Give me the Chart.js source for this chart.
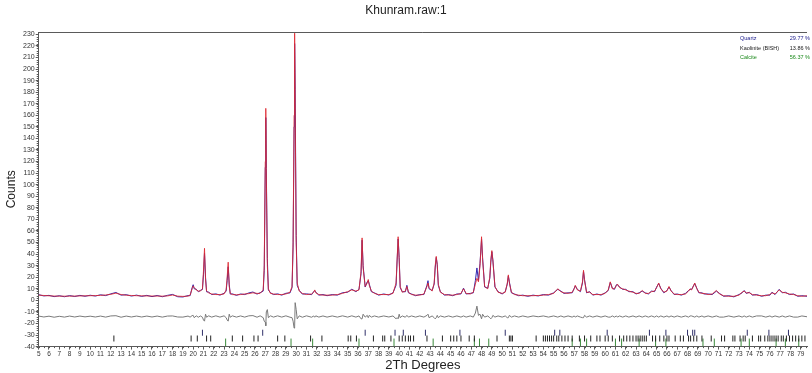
<!DOCTYPE html>
<html>
<head>
<meta charset="utf-8">
<script src="https://cdn.jsdelivr.net/npm/chart.js@4"></script>
<style>
  body { margin: 0; background: #fff; }
  #wrap { position: relative; width: 812px; height: 373px; }
  #phases { position: absolute; left: 740px; top: 34px; font: 5.5px "Liberation Sans", Arial, sans-serif; line-height: 9.5px; }
  #phases div { display: flex; width: 70px; justify-content: space-between; }
</style>
</head>
<body>
<div id="wrap">
  <canvas id="graphique" width="812" height="373"></canvas>
  <div id="phases">
    <div style="color:#1c1c8c"><span>Quartz</span><span>29.77 %</span></div>
    <div style="color:#202020"><span>Kaolinite (BISH)</span><span>13.86 %</span></div>
    <div style="color:#1d8a1d"><span>Calcite</span><span>56.37 %</span></div>
  </div>
</div>
<script>
// 2-theta grid (degrees)
const twoTheta = [
  5, 5.5, 6, 6.5, 7, 7.5, 8, 8.5, 9, 9.5,
  10, 10.5, 11, 11.5, 12, 12.5, 13, 13.5, 14, 14.5,
  15, 15.5, 16, 16.5, 17, 17.5, 18, 18.5, 19, 19.5,
  19.7, 19.9, 20.0, 20.1, 20.3, 20.5, 20.7, 20.9, 21.0, 21.1,
  21.2, 21.3, 21.5, 21.8, 22.2, 22.6, 23.0, 23.2, 23.3, 23.4,
  23.5, 23.6, 23.8, 24.2, 24.6, 25.0, 25.4, 25.8, 26.2, 26.5,
  26.8, 26.9, 27.0, 27.05, 27.1, 27.2, 27.3, 27.5, 27.8, 28.2,
  28.6, 29.0, 29.4, 29.6, 29.7, 29.8, 29.85, 29.9, 30.0, 30.1,
  30.3, 30.6, 31.0, 31.5, 31.7, 31.8, 31.9, 32.2, 32.6, 33.0,
  33.5, 34.0, 34.5, 35.0, 35.4, 35.8, 36.1, 36.3, 36.4, 36.5,
  36.7, 36.9, 37.0, 37.1, 37.3, 37.6, 38.0, 38.5, 39.0, 39.4,
  39.7, 39.8, 39.9, 40.0, 40.1, 40.3, 40.6, 40.75, 40.9, 41.2,
  41.6, 42.0, 42.4, 42.7, 42.8, 42.9, 43.2, 43.4, 43.5, 43.6,
  43.7, 43.8, 44.0, 44.4, 44.8, 45.2, 45.6, 46.0, 46.25, 46.5,
  46.9, 47.2, 47.4, 47.55, 47.7, 47.85, 48.0, 48.1, 48.3, 48.6,
  48.8, 48.9, 49.0, 49.1, 49.3, 49.6, 50.0, 50.3, 50.5, 50.6,
  50.7, 50.9, 51.2, 51.6, 52.0, 52.5, 53.0, 53.5, 54.0, 54.5,
  55.0, 55.4, 55.7, 56.0, 56.4, 56.8, 57.0, 57.1, 57.3, 57.6,
  57.8, 57.9, 58.0, 58.2, 58.5, 58.8, 59.2, 59.6, 60.0, 60.3,
  60.5, 60.7, 60.9, 61.1, 61.2, 61.4, 61.7, 62.0, 62.3, 62.7,
  63.0, 63.3, 63.6, 63.9, 64.2, 64.5, 64.8, 65.0, 65.2, 65.4,
  65.7, 66.0, 66.2, 66.4, 66.7, 67.0, 67.4, 67.8, 68.1, 68.25,
  68.4, 68.7, 68.9, 69.1, 69.4, 69.6, 70.0, 70.4, 70.8, 71.1,
  71.5, 72.0, 72.5, 73.0, 73.3, 73.5, 73.7, 74.0, 74.3, 74.7,
  75.2, 75.6, 76.0, 76.2, 76.5, 76.9, 77.2, 77.5, 77.9, 78.3,
  78.7, 79.1, 79.6
];

// calculated profile (red)
const yCalc = [
  4.5, 4.2, 3.9, 3.7, 3.6, 3.6, 3.6, 3.7, 3.8, 3.9,
  4.0, 4.1, 4.3, 4.6, 5.2, 6.2, 5.0, 4.4, 4.2, 4.0,
  3.9, 3.8, 3.7, 3.7, 3.6, 3.8, 4.6, 3.6, 3.4, 3.6,
  4.5, 10, 12.5, 11, 9, 8, 8, 10, 25, 45,
  18, 8, 6.5, 5.5, 5, 5, 5.5, 9, 20, 33,
  12, 6, 5, 4.8, 5, 5.5, 5.8, 6.5, 6, 6,
  9, 30, 120, 166, 110, 30, 10, 6, 5.5, 5,
  5, 5.5, 7, 12, 50, 160, 231, 170, 50, 15,
  8, 6, 5, 5.5, 7, 9, 6.5, 5, 4.5, 4.5,
  4.5, 5, 6, 7.5, 9, 8, 9, 25, 54, 28,
  12, 15, 18, 13, 8, 6, 5, 5, 5, 6,
  15, 35, 55, 35, 12, 7, 8, 12, 7, 5,
  4.5, 4.5, 5.5, 12, 15, 11, 8, 15, 30, 38,
  30, 14, 7, 5, 4.5, 4.5, 5, 6, 10, 6,
  5.5, 7, 14, 19, 16, 30, 55, 35, 12, 10,
  20, 35, 43, 34, 12, 7, 6, 7, 15, 22,
  15, 7, 5, 4.5, 4, 4, 4, 4.2, 4.5, 5,
  6, 10, 7.5, 6.5, 6, 7, 10, 13, 9, 8,
  16, 26, 17, 7, 7, 5, 5, 5, 6, 9,
  16, 10, 10, 13, 14, 11, 10, 9, 8, 7,
  6, 6, 8.5, 6, 6, 7.5, 8, 11, 15, 10,
  7, 8, 12, 8, 5.5, 5, 5, 5.5, 8, 10,
  9, 15, 10, 7, 6, 6, 5, 5.5, 8.5, 5.5,
  4, 3.5, 3.5, 4.5, 7, 8, 6.5, 6.5, 5, 4.5,
  4, 4, 5, 6.5, 5.5, 9, 7, 6.5, 5.5, 5,
  4, 3.5, 4
];

// observed counts (blue)
const yObs = [
  4.9, 3.8, 4.3, 3.2, 4.0, 3.1, 4.1, 3.3, 4.3, 3.5,
  4.4, 3.7, 4.8, 4.1, 5.6, 6.8, 4.5, 4.9, 3.7, 4.5,
  3.4, 4.3, 3.2, 4.2, 3.1, 4.3, 5.1, 3.1, 2.9, 4.1,
  4.0, 11, 13.5, 10, 9.6, 7.4, 8.6, 9.4, 22, 41,
  20, 7.4, 7.1, 5.0, 5.6, 4.5, 6.1, 8, 17, 29,
  14, 5.4, 5.6, 4.3, 5.5, 5.0, 6.4, 7.2, 5.4, 6.6,
  8, 26, 115, 158, 114, 36, 9, 6.6, 5.0, 5.6,
  4.5, 6.1, 6.4, 11, 46, 150, 222, 182, 56, 13,
  8.6, 5.4, 5.6, 4.9, 7.5, 8.4, 7.1, 4.5, 5.0, 4.0,
  5.0, 4.5, 6.6, 7.0, 9.6, 7.5, 9.5, 23, 52, 30,
  11.5, 16, 17, 14, 7.5, 6.5, 4.5, 5.5, 4.6, 6.5,
  13, 34, 53, 37, 11, 7.5, 7.4, 13, 6.5, 5.5,
  4.0, 5.0, 5.0, 13, 17, 10, 8.5, 14, 28, 37,
  31, 13, 7.5, 4.5, 5.0, 4.0, 5.5, 5.5, 10.5, 5.5,
  6.0, 6.5, 17, 28, 17, 32, 53, 37, 11.5, 10.5,
  19, 33, 42, 35, 11.5, 7.5, 5.5, 7.5, 14, 21,
  16, 6.5, 5.5, 4.0, 4.5, 3.5, 4.5, 3.8, 5.0, 4.5,
  6.5, 9.5, 8.0, 6.0, 6.5, 6.5, 10.5, 12.5, 9.5, 7.5,
  15, 25, 18, 6.5, 7.5, 4.5, 5.5, 4.5, 6.5, 8.5,
  15.5, 10.5, 9.5, 13.5, 13.5, 11.5, 9.5, 9.5, 7.5, 7.5,
  5.5, 6.5, 8.0, 6.5, 5.5, 8.0, 7.5, 11.5, 14.5, 10.5,
  6.5, 8.5, 11.5, 8.5, 5.0, 5.5, 4.5, 6.0, 8.5, 9.5,
  9.5, 14.5, 10.5, 6.5, 6.5, 5.5, 5.5, 5.0, 8.0, 6.0,
  3.5, 4.0, 3.0, 5.0, 6.5, 8.5, 6.0, 7.0, 4.5, 5.0,
  3.5, 4.5, 4.5, 7.0, 5.0, 9.5, 6.5, 7.0, 5.0, 5.5,
  3.5, 4.0, 3.5
];

// difference curve (grey), plotted with its offset
const yDiff = [
  -13.6, -14.4, -13.7, -14.6, -13.8, -14.5, -13.6, -14.4, -13.6, -14.3,
  -13.7, -14.4, -13.6, -14.5, -13.5, -13.3, -14.6, -13.6, -14.4, -13.6,
  -14.4, -13.6, -14.4, -13.6, -14.5, -13.6, -13.5, -14.4, -14.5, -13.6,
  -14.5, -13.2, -13.0, -15.0, -13.4, -14.6, -13.5, -14.6, -17, -18,
  -12, -14.6, -13.4, -14.5, -13.4, -14.5, -13.4, -15, -17, -18,
  -12, -14.6, -13.4, -14.5, -13.5, -14.5, -13.4, -13.2, -14.6, -13.4,
  -15, -18, -19, -22, -10, -8, -15, -13.4, -14.5, -13.4,
  -14.5, -13.4, -14.6, -15, -18, -24, -23, -2, -8, -16,
  -13.4, -14.6, -13.4, -14.6, -13.5, -14.6, -13.4, -14.5, -13.5, -14.5,
  -13.5, -14.5, -13.4, -14.5, -13.4, -14.5, -13.5, -16, -16, -12,
  -14.5, -13, -15, -13, -14.5, -13.5, -14.5, -13.5, -14.4, -13.5,
  -16, -15, -16, -12, -15, -13.5, -14.6, -13, -14.5, -13.5,
  -14.5, -13.5, -14.5, -13, -12, -15, -13.5, -15, -16, -15,
  -13, -15, -13.5, -14.5, -13.5, -14.5, -13.5, -14.5, -13.5, -14.5,
  -13.5, -14.5, -11, -5, -13, -12, -16, -12, -14.5, -13.5,
  -15, -16, -15, -13, -14.5, -13.5, -14.5, -13.5, -15, -15,
  -13, -14.5, -13.5, -14.5, -13.5, -14.5, -13.5, -14.2, -13.5, -14.5,
  -13.5, -14.5, -13.5, -14.5, -13.5, -14.5, -13.5, -14.5, -13.5, -14.5,
  -15, -15, -13, -14.5, -13.5, -14.5, -13.5, -14.5, -13.5, -14.5,
  -14.5, -13.5, -14.5, -13.5, -14.5, -13.5, -14.5, -13.5, -14.5, -13.5,
  -14.5, -13.5, -14.5, -13.5, -14.5, -13.5, -14.5, -13.5, -14.5, -13.5,
  -14.5, -13.5, -14.5, -13.5, -14.5, -13.5, -14.5, -13.5, -14.5, -13.5,
  -13.5, -14.5, -13.5, -14.5, -13.5, -14.5, -13.5, -14.5, -13.5, -14.5,
  -14.5, -13.5, -14.5, -13.5, -14.5, -13.5, -14.5, -13.5, -14.5, -13.5,
  -13.5, -14.5, -13.5, -14.5, -13.5, -14.5, -13.5, -14.5, -13.5, -14.5,
  -14.5, -13.5, -14.2
];

// reflection positions of each phase (tick rows)
const quartzTicks = [20.9, 26.75, 36.7, 39.6, 40.4, 42.55, 45.9, 50.3, 55.1, 55.6,
  60.2, 64.3, 65.9, 68.0, 68.5, 68.7, 73.8, 75.9, 77.8];
const kaoliniteTicks = [12.3, 19.8, 20.4, 21.3, 21.7, 23.8, 24.8, 25.9, 26.3, 28.2,
  28.9, 31.4, 32.5, 35.05, 35.3, 35.85, 37.5, 38.4, 38.6, 39.2,
  40.0, 40.3, 40.6, 40.9, 41.1, 41.4, 42.7, 44.2, 45.0, 45.3,
  45.6, 46.0, 46.8, 47.3, 49.5, 50.7, 50.85, 51.0, 53.3, 54.0,
  54.2, 54.4, 54.6, 54.8, 55.0, 55.3, 55.5, 55.8, 56.1, 56.4,
  56.8, 57.5, 58.0, 58.6, 59.2, 59.5, 60.0, 60.3, 60.7, 61.4,
  61.8, 62.1, 62.4, 62.7, 63.0, 63.2, 63.4, 63.6, 63.8, 64.0,
  64.6, 64.9, 65.3, 65.7, 66.0, 66.2, 66.8, 67.3, 67.6, 68.1,
  68.3, 68.6, 68.9, 69.4, 70.3, 71.3, 71.6, 72.4, 72.6, 73.1,
  73.4, 73.6, 74.3, 74.9, 75.1, 75.5, 75.8, 76.0, 76.2, 76.4,
  76.6, 76.8, 77.1, 77.3, 77.6, 77.9, 78.2, 78.5, 78.8, 79.1, 79.4];
const calciteTicks = [23.15, 29.5, 31.6, 36.1, 39.5, 43.3, 47.3, 47.8, 48.7, 56.8,
  57.6, 58.2, 61.0, 61.6, 63.3, 64.9, 65.9, 69.5, 70.6, 73.2,
  74.0, 76.6, 77.5, 78.8];

const FONT = "'Liberation Sans', Arial, sans-serif";

const pts = ys => twoTheta.map((t, i) => ({ x: t, y: ys[i] }));
const tickRow = (arr, level) => arr.map(t => ({ x: t, y: level }));

// frame on top and small minor ticks on both axes
const cadre = {
  id: 'cadre',
  afterDraw(chart) {
    const { ctx, chartArea: a, scales: { x, y } } = chart;
    ctx.save();
    ctx.strokeStyle = '#5a5a5a';
    ctx.lineWidth = 1;
    ctx.beginPath();
    ctx.moveTo(a.left, a.top + 0.5);
    ctx.lineTo(a.right, a.top + 0.5);
    for (let v = -40; v <= 230; v += 2) {
      const py = Math.round(y.getPixelForValue(v)) + 0.5;
      ctx.moveTo(a.left - 2, py);
      ctx.lineTo(a.left, py);
    }
    for (let v = 5; v <= 79.6; v += 0.5) {
      const px = Math.round(x.getPixelForValue(v)) + 0.5;
      ctx.moveTo(px, a.bottom);
      ctx.lineTo(px, a.bottom + 1.5);
    }
    ctx.stroke();
    ctx.restore();
  }
};

new Chart(document.getElementById('graphique').getContext('2d'), {
  type: 'line',
  data: {
    datasets: [
      { label: 'Calc', data: pts(yCalc), borderColor: 'rgba(222,40,48,0.85)', borderWidth: 1, pointRadius: 0, tension: 0 },
      { label: 'Obs', data: pts(yObs), borderColor: '#3028b0', borderWidth: 1, pointRadius: 0, tension: 0 },
      { label: 'Diff', data: pts(yDiff), borderColor: '#7a7a7a', borderWidth: 1, pointRadius: 0, tension: 0 },
      { type: 'scatter', label: 'Quartz', data: tickRow(quartzTicks, -28), pointStyle: 'line', rotation: 90,
        pointRadius: 3, borderColor: '#30306a', borderWidth: 1 },
      { type: 'scatter', label: 'Kaolinite', data: tickRow(kaoliniteTicks, -33), pointStyle: 'line', rotation: 90,
        pointRadius: 3, borderColor: '#222', borderWidth: 1 },
      { type: 'scatter', label: 'Calcite', data: tickRow(calciteTicks, -36.5), pointStyle: 'line', rotation: 90,
        pointRadius: 4, borderColor: '#3a8a3a', borderWidth: 1 }
    ]
  },
  options: {
    responsive: false,
    animation: false,
    events: [],
    layout: { padding: 0 },
    plugins: {
      legend: { display: false },
      tooltip: { enabled: false },
      title: {
        display: true,
        text: 'Khunram.raw:1',
        color: '#222',
        font: { family: FONT, size: 12, weight: 'normal' },
        padding: { top: 3, bottom: 14.6 }
      }
    },
    scales: {
      x: {
        type: 'linear',
        min: 5,
        max: 79.6,
        afterFit(s) { s.height = 26.4; },
        ticks: { stepSize: 1, autoSkip: false, maxRotation: 0, includeBounds: false, color: '#333',
                 font: { family: FONT, size: 6.5 }, padding: 1 },
        grid: { drawOnChartArea: false, tickLength: 3, color: '#5a5a5a' },
        border: { color: '#5a5a5a' },
        title: { display: true, text: '2Th Degrees', color: '#222', font: { family: FONT, size: 13 }, padding: 0 }
      },
      y: {
        min: -40,
        max: 232,
        afterFit(s) { s.width = 38.7; },
        ticks: { stepSize: 10, includeBounds: false, color: '#333', font: { family: FONT, size: 7 }, padding: 1 },
        grid: { drawOnChartArea: false, tickLength: 3, color: '#5a5a5a' },
        border: { color: '#5a5a5a' },
        title: { display: true, text: 'Counts', color: '#222', font: { family: FONT, size: 12 }, padding: 4 }
      }
    }
  },
  plugins: [cadre]
});
</script>
</body>
</html>
